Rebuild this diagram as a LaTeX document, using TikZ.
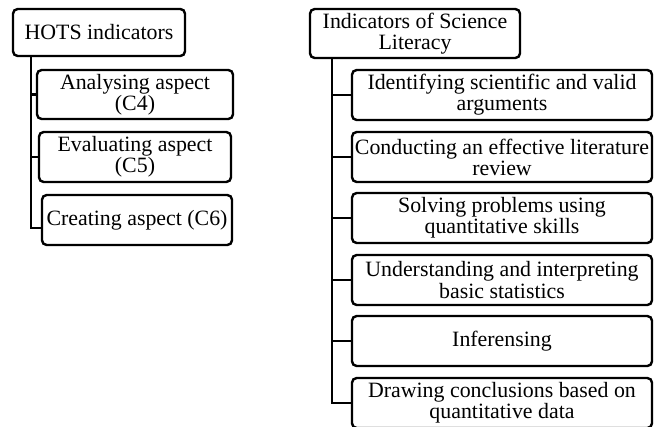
\documentclass[tikz,border=0pt]{standalone}
\usepackage{fontspec}
\setmainfont{Liberation Serif}
\begin{document}
\begin{tikzpicture}[x=0.75pt, y=-0.75pt]
  \tikzstyle{indbox}=[draw, rounded corners=3.5pt, line width=1.8pt, align=center, inner sep=0pt, font=\fontsize{16.4}{15.8}\selectfont]
  \tikzstyle{branch}=[line width=2pt]
  \useasboundingbox (0,0) rectangle (655,426);
  % Node definitions
  \node[indbox, minimum width=129pt, minimum height=35.25pt] (hots) at (99,32.5) {HOTS indicators};
  \node[indbox, minimum width=147pt, minimum height=36.75pt] (ana) at (135,94.5) {Analysing aspect\\(C4)};
  \node[indbox, minimum width=144pt, minimum height=37.5pt] (eva) at (135,157) {Evaluating aspect\\(C5)};
  \node[indbox, minimum width=142.5pt, minimum height=37.5pt] (cre) at (137,220) {Creating aspect (C6)};

  \node[indbox, minimum width=157.5pt, minimum height=36.75pt] (sci) at (415,33.5) {Indicators of Science\\Literacy};
  \node[indbox, minimum width=225pt, minimum height=37.5pt] (idn) at (502,95) {Identifying scientific and valid\\arguments};
  \node[indbox, minimum width=225pt, minimum height=37.5pt] (lit) at (502,157) {Conducting an effective literature\\review};
  \node[indbox, minimum width=225pt, minimum height=37.5pt] (qnt) at (502,218) {Solving problems using\\quantitative skills};
  \node[indbox, minimum width=225pt, minimum height=37.5pt] (stat) at (502,280) {Understanding and interpreting\\basic statistics};
  \node[indbox, minimum width=225pt, minimum height=37.5pt] (infr) at (502,341) {Inferensing};
  \node[indbox, minimum width=225pt, minimum height=37.5pt] (concl) at (502,403) {Drawing conclusions based on\\quantitative data};

  % Connector definitions
  \coordinate (hl) at (31,0);
  \coordinate (sl) at (332,0);
  \draw[branch] (hots.south -| hl) |- ([yshift=-6pt]cre.west);
  \draw[branch] (hl |- ana.west) -- (ana.west);
  \draw[branch] (hl |- eva.west) -- (eva.west);

  \draw[branch] (sci.south -| sl) |- (concl.west);
  \draw[branch] (sl |- idn.west) -- (idn.west);
  \draw[branch] (sl |- lit.west) -- (lit.west);
  \draw[branch] (sl |- qnt.west) -- (qnt.west);
  \draw[branch] (sl |- stat.west) -- (stat.west);
  \draw[branch] (sl |- infr.west) -- (infr.west);
\end{tikzpicture}
\end{document}
